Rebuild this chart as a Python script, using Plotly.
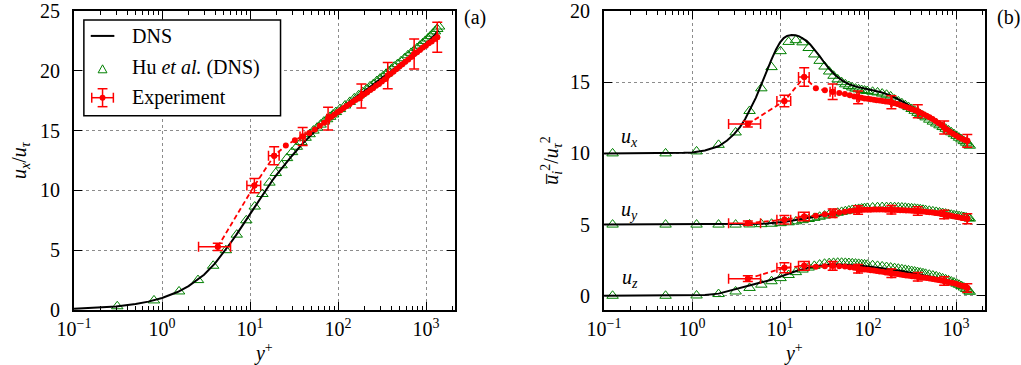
import plotly.graph_objects as go

# ------------------------------------------------------------------ data
# (a) mean velocity
dns_yplus_left = [0.1, 0.2, 0.3, 0.5, 0.7, 1, 1.5, 2, 3, 4, 5, 6, 7, 8, 9, 10, 12, 14, 16, 18, 20,
                  25, 30, 40, 50, 60, 80, 100, 150, 200, 300, 400, 500, 700, 900, 1100, 1300, 1380]
dns_u_left = [0.1, 0.2, 0.3, 0.5, 0.7, 1.0, 1.5, 2.0, 2.95, 3.9, 4.8, 5.6, 6.3, 6.95, 7.5, 8.0, 8.9, 9.65,
              10.3, 10.85, 11.3, 12.2, 12.9, 13.95, 14.7, 15.25, 16.05, 16.65, 17.65, 18.3, 19.3, 19.95,
              20.5, 21.35, 22.0, 22.55, 23.1, 23.35]

hu_yplus_left = [0.31, 0.81, 1.56, 2.56, 3.81, 5.31, 7.06, 9.06, 11.3, 13.8, 16.6, 19.6, 22.8, 26.3, 30.0,
                 34.0, 38.3, 42.8, 47.5, 52.5, 57.8, 63.3, 69.0, 75.0, 81.3, 87.8, 94.5, 105, 120, 136,
                 153, 171, 190, 210, 231, 253, 276, 300, 325, 351, 378, 406, 435, 473, 520, 570, 622,
                 676, 731, 790, 851, 914, 979, 1047, 1116, 1188, 1262, 1339, 1404]
hu_u_left = [0.31, 0.8, 1.55, 2.5, 3.7, 5.0, 6.3, 7.5, 8.65, 9.7, 10.65, 11.45, 12.1, 12.7, 13.2, 13.65,
             14.05, 14.4, 14.7, 15.0, 15.25, 15.5, 15.75, 15.95, 16.15, 16.35, 16.55, 16.8, 17.1, 17.4,
             17.7, 17.95, 18.2, 18.45, 18.7, 18.9, 19.15, 19.35, 19.55, 19.75, 19.95, 20.15, 20.35,
             20.55, 20.8, 21.05, 21.3, 21.5, 21.7, 21.9, 22.1, 22.3, 22.5, 22.7, 22.9, 23.1, 23.3,
             23.5, 23.7]

exp_yplus = [4.3, 11.2, 18.8, 25.5, 32.3, 39.6, 47, 54.5, 62, 69.5, 77, 84, 91, 99, 107, 116, 125, 135,
             146, 158, 170, 184, 199, 215, 232, 250, 270, 292, 315, 340, 367, 396, 428, 462, 499, 539,
             582, 628, 678, 732, 790, 853, 921, 995, 1074, 1160, 1253, 1340]
exp_u_left = [5.28, 10.4, 12.9, 13.75, 14.2, 14.5, 14.8, 15.1, 15.4, 15.65, 16.0, 16.15, 16.35, 16.55,
              16.7, 16.9, 17.05, 17.2, 17.4, 17.55, 17.7, 17.9, 18.05, 18.2, 18.4, 18.55, 18.75, 18.9,
              19.1, 19.3, 19.6, 19.75, 19.95, 20.15, 20.35, 20.55, 20.75, 20.95, 21.15, 21.4, 21.55,
              21.75, 21.95, 22.1, 22.3, 22.45, 22.65, 22.8]

# points of the experiment that carry error bars
exp_err_idx = [0, 1, 2, 5, 10, 21, 30, 39, 47]
exp_yplus_err = [1.7, 2.0, 2.6, 2.6, 2.6, 2.6, 2.6, 2.6, 2.6]
exp_u_left_err = [0.3, 0.6, 0.75, 0.75, 0.95, 1.0, 1.1, 1.25, 1.25]

# (b) Reynolds normal stresses (u_x offset +10, u_y offset +5)
dns_yplus_right = [0.1, 0.3, 0.5, 0.8, 1, 1.4, 2, 2.5, 3, 3.5, 4, 4.7, 5.3, 6, 7, 8, 9, 10, 11, 12, 13.5,
                   15, 16.5, 18, 20, 22, 25, 28, 31, 36, 43, 52, 61, 75, 100, 140, 186, 250, 368, 500,
                   735, 1000, 1200, 1380]
dns_uxx = [10.0, 10.0, 10.01, 10.04, 10.07, 10.2, 10.5, 10.9, 11.35, 11.85, 12.4, 13.2, 13.9, 14.7,
           15.75, 16.6, 17.3, 17.8, 18.1, 18.25, 18.32, 18.3, 18.22, 18.1, 17.9, 17.65, 17.25, 16.85,
           16.47, 15.95, 15.45, 15.08, 14.85, 14.67, 14.5, 14.3, 14.03, 13.62, 12.99, 12.5, 11.94,
           11.4, 11.05, 10.77]
dns_uyy = [5.0, 5.0, 5.0, 5.0, 5.0, 5.0, 5.0, 5.0, 5.01, 5.01, 5.02, 5.03, 5.04, 5.05, 5.07, 5.09, 5.12,
           5.15, 5.18, 5.21, 5.26, 5.3, 5.35, 5.39, 5.44, 5.49, 5.55, 5.61, 5.66, 5.73, 5.81, 5.89,
           5.95, 6.01, 6.08, 6.1, 6.09, 6.06, 5.98, 5.9, 5.75, 5.58, 5.44, 5.3]
dns_uzz = [0.0, 0.0, 0.0, 0.01, 0.02, 0.05, 0.15, 0.3, 0.42, 0.52, 0.61, 0.72, 0.81, 0.9, 1.02, 1.13,
           1.24, 1.35, 1.44, 1.52, 1.62, 1.72, 1.8, 1.87, 1.95, 2.01, 2.07, 2.12, 2.15, 2.18, 2.2,
           2.19, 2.17, 2.13, 2.06, 1.96, 1.85, 1.72, 1.52, 1.36, 1.13, 0.88, 0.68, 0.45]

hu_yplus_right = [0.125, 0.5, 1.125, 2, 3.125, 4.5, 6.125, 8, 10.125, 12.5, 15.125, 18, 21.125, 24.5,
                  28.125, 32, 36.125, 40.5, 45.125, 50, 55.125, 60.5, 66.125, 72, 78.125, 84.5, 91.125,
                  98, 112.5, 128, 144.5, 162, 180.5, 200, 220.5, 242, 264.5, 288, 312.5, 338, 364.5,
                  392, 420.5, 450, 496, 544.5, 595, 648, 703, 760.5, 820, 882, 946, 1012.5, 1081, 1152,
                  1225, 1300.5, 1378, 1431]
hu_uxx = [10.0, 10.0, 10.14, 10.6, 11.47, 12.98, 14.57, 16.06, 17.18, 17.83, 17.95, 17.8, 17.4, 16.95,
          16.5, 16.1, 15.75, 15.45, 15.2, 15.0, 14.85, 14.73, 14.63, 14.55, 14.5, 14.45, 14.41, 14.38,
          14.33, 14.28, 14.2, 14.12, 14.0, 13.78, 13.65, 13.52, 13.38, 13.25, 13.12, 12.99, 12.85,
          12.75, 12.64, 12.53, 12.37, 12.23, 12.1, 11.97, 11.85, 11.73, 11.61, 11.48, 11.35, 11.23,
          11.1, 10.98, 10.86, 10.75, 10.63, 10.54]
hu_uyy = [5.0, 5.0, 5.0, 5.0, 5.0, 5.01, 5.03, 5.06, 5.1, 5.16, 5.23, 5.31, 5.39, 5.47, 5.55, 5.63, 5.7,
          5.77, 5.83, 5.89, 5.94, 5.99, 6.03, 6.07, 6.1, 6.13, 6.15, 6.17, 6.2, 6.22, 6.23, 6.23, 6.23,
          6.22, 6.21, 6.2, 6.18, 6.16, 6.14, 6.12, 6.1, 6.07, 6.04, 6.01, 5.97, 5.93, 5.89, 5.85,
          5.81, 5.77, 5.73, 5.69, 5.65, 5.62, 5.59, 5.56, 5.53, 5.5, 5.46, 5.42]
hu_uzz = [0.0, 0.0, 0.02, 0.12, 0.3, 0.55, 0.78, 1.02, 1.24, 1.46, 1.66, 1.84, 1.98, 2.1, 2.19, 2.25,
          2.29, 2.31, 2.32, 2.32, 2.31, 2.3, 2.28, 2.26, 2.24, 2.22, 2.2, 2.18, 2.14, 2.1, 2.06, 2.02,
          1.98, 1.94, 1.9, 1.86, 1.82, 1.78, 1.74, 1.7, 1.66, 1.62, 1.58, 1.54, 1.48, 1.42, 1.36,
          1.29, 1.22, 1.15, 1.08, 1.0, 0.93, 0.85, 0.77, 0.68, 0.58, 0.47, 0.36, 0.28]

exp_uxx = [12.06, 13.68, 15.36, 14.57, 14.43, 14.33, 14.25, 14.17, 14.08, 14.0, 13.94, 13.9, 13.86,
           13.83, 13.8, 13.77, 13.74, 13.71, 13.68, 13.65, 13.62, 13.59, 13.53, 13.47, 13.4, 13.33,
           13.26, 13.18, 13.1, 13.03, 12.96, 12.86, 12.75, 12.64, 12.53, 12.41, 12.28, 12.14, 11.99,
           11.82, 11.67, 11.52, 11.38, 11.25, 11.13, 11.02, 10.94, 10.88]
exp_uyy = [5.1, 5.34, 5.57, 5.62, 5.72, 5.8, 5.85, 5.9, 5.95, 5.98, 6.02, 6.03, 6.04, 6.05, 6.05, 6.06,
           6.06, 6.06, 6.06, 6.05, 6.05, 6.04, 6.03, 6.02, 6.01, 6.0, 5.99, 5.98, 5.97, 5.96, 5.95,
           5.93, 5.91, 5.89, 5.87, 5.85, 5.82, 5.79, 5.75, 5.71, 5.67, 5.63, 5.59, 5.55, 5.51, 5.47,
           5.44, 5.41]
exp_uzz = [1.2, 1.96, 2.1, 2.04, 2.08, 2.1, 2.08, 2.05, 2.01, 1.96, 1.9, 1.87, 1.84, 1.82, 1.8, 1.77,
           1.74, 1.71, 1.68, 1.64, 1.61, 1.58, 1.55, 1.52, 1.49, 1.46, 1.43, 1.4, 1.37, 1.35, 1.33,
           1.3, 1.27, 1.24, 1.21, 1.18, 1.15, 1.11, 1.07, 1.03, 0.99, 0.94, 0.89, 0.84, 0.78, 0.71,
           0.63, 0.55]
exp_uxx_err = [0.2, 0.4, 0.65, 0.55, 0.45, 0.45, 0.45, 0.45, 0.45]
exp_uyy_err = [0.15, 0.3, 0.3, 0.3, 0.3, 0.3, 0.3, 0.3, 0.35]
exp_uzz_err = [0.2, 0.35, 0.3, 0.3, 0.3, 0.3, 0.3, 0.3, 0.3]

# axis ticks
x_tickvals = [0.1, 1, 10, 100, 1000]
x_ticktext = ["10<sup>−1</sup>", "10<sup>0</sup>", "10<sup>1</sup>", "10<sup>2</sup>", "10<sup>3</sup>"]
x_minor_vals = [0.2, 0.3, 0.4, 0.5, 0.6, 0.7, 0.8, 0.9, 2, 3, 4, 5, 6, 7, 8, 9,
                20, 30, 40, 50, 60, 70, 80, 90, 200, 300, 400, 500, 600, 700, 800, 900, 2000]
y_left_ticks = [0, 5, 10, 15, 20, 25]
y_right_ticks = [0, 5, 10, 15, 20]

# ------------------------------------------------------------------ style
W, H = 1021, 365
MT, MB = 10, 55
FONT = "'Liberation Serif', 'Times New Roman', serif"
GREEN = "rgb(0,128,0)"
RED = "rgb(255,0,0)"


def px(x):
    return x / W


def py(y):
    return (H - MB - y) / (H - MT - MB)


fig = go.Figure()


def add_panel(xa, ya, hu_x, hu_v, dns_x, dns_v, ex_v, ex_err):
    fig.add_trace(go.Scatter(x=hu_x, y=hu_v, mode="markers", xaxis=xa, yaxis=ya,
                             marker=dict(symbol="triangle-up-open", size=10, color=GREEN,
                                         line=dict(width=1, color=GREEN)),
                             showlegend=False))
    fig.add_trace(go.Scatter(x=dns_x, y=dns_v, mode="lines", xaxis=xa, yaxis=ya,
                             line=dict(color="black", width=2), showlegend=False))
    fig.add_trace(go.Scatter(x=exp_yplus, y=ex_v, mode="lines+markers", xaxis=xa, yaxis=ya,
                             line=dict(color=RED, width=1.8, dash="5px,3px"),
                             marker=dict(symbol="circle", size=6, color=RED),
                             showlegend=False))
    fig.add_trace(go.Scatter(x=[exp_yplus[i] for i in exp_err_idx],
                             y=[ex_v[i] for i in exp_err_idx],
                             mode="markers", xaxis=xa, yaxis=ya,
                             marker=dict(symbol="circle", size=6, color=RED),
                             error_x=dict(type="data", array=exp_yplus_err, color=RED,
                                          thickness=1.5, width=5),
                             error_y=dict(type="data", array=ex_err, color=RED,
                                          thickness=1.5, width=5),
                             showlegend=False))


add_panel("x", "y", hu_yplus_left, hu_u_left, dns_yplus_left, dns_u_left, exp_u_left, exp_u_left_err)
add_panel("x2", "y2", hu_yplus_right, hu_uxx, dns_yplus_right, dns_uxx, exp_uxx, exp_uxx_err)
add_panel("x2", "y2", hu_yplus_right, hu_uyy, dns_yplus_right, dns_uyy, exp_uyy, exp_uyy_err)
add_panel("x2", "y2", hu_yplus_right, hu_uzz, dns_yplus_right, dns_uzz, exp_uzz, exp_uzz_err)

tickfont = dict(family=FONT, size=20, color="black")
titlefont = dict(family=FONT, size=20, color="black")
xcommon = dict(type="log", range=[-1, 3.324], tickmode="array", tickvals=x_tickvals, ticktext=x_ticktext,
               showline=True, linewidth=2, linecolor="black", mirror="ticks",
               ticks="inside", ticklen=8, tickwidth=1, tickcolor="black",
               showgrid=True, griddash="dot", gridcolor="rgb(140,140,140)", gridwidth=1,
               zeroline=False, tickfont=tickfont, ticklabeloverflow="allow",
               title=dict(text="<i>y</i><sup>+</sup>", font=titlefont, standoff=4),
               minor=dict(tickmode="array", tickvals=x_minor_vals, ticks="inside", ticklen=4,
                          tickcolor="black", showgrid=False))
ycommon = dict(showline=True, linewidth=2, linecolor="black", mirror="ticks",
               ticks="inside", ticklen=8, tickwidth=1, tickcolor="black", tickmode="array",
               showgrid=True, griddash="dot", gridcolor="rgb(140,140,140)", gridwidth=1,
               zeroline=False, tickfont=tickfont, ticklabeloverflow="allow",
               ticklabelstandoff=8)

fig.update_layout(
    width=W, height=H,
    margin=dict(l=0, r=0, t=MT, b=MB),
    paper_bgcolor="white", plot_bgcolor="white",
    showlegend=False,
    font=dict(family=FONT, size=20, color="black"),
    xaxis=dict(domain=[px(58), px(445)], anchor="y", **xcommon),
    yaxis=dict(domain=[0, 1], anchor="x", range=[-0.001, 25.001], tickvals=y_left_ticks,
               title=dict(text="<i>u</i><sub><i>x</i></sub>/<i>u</i><sub><i>τ</i></sub>",
                          font=titlefont, standoff=8),
               **ycommon),
    xaxis2=dict(domain=[px(597), px(984)], anchor="y2", **xcommon),
    yaxis2=dict(domain=[0, 1], anchor="x2", range=[-1, 20.001], tickvals=y_right_ticks,
                title=dict(text="<i>u\u0305</i><sub><i>i</i></sub><sup>2</sup>/<i>u</i><sub><i>τ</i></sub><sup>2</sup>",
                           font=titlefont, standoff=6),
                **ycommon),
)

ann_font = dict(family=FONT, size=20, color="black")
annotations = [
    dict(x=px(466), y=py(17), text="(a)"),
    dict(x=px(1008), y=py(17), text="(b)"),
    dict(x=px(623), y=py(137), text="<i>u</i><sub><i>x</i></sub>"),
    dict(x=px(623), y=py(210), text="<i>u</i><sub><i>y</i></sub>"),
    dict(x=px(623), y=py(278), text="<i>u</i><sub><i>z</i></sub>"),
    dict(x=px(115), y=py(35), text="DNS", xanchor="left"),
    dict(x=px(115), y=py(67), text="Hu <i>et al.</i> (DNS)", xanchor="left"),
    dict(x=px(115), y=py(97), text="Experiment", xanchor="left"),
]
for a in annotations:
    a.setdefault("xanchor", "center")
    fig.add_annotation(xref="paper", yref="paper", showarrow=False, font=ann_font, yanchor="middle", **a)

# hand-drawn legend box and symbols
shapes = [
    dict(type="rect", x0=px(68), x1=px(268), y0=py(19), y1=py(115),
         line=dict(color="black", width=1.5), fillcolor="white"),
    dict(type="line", x0=px(75), x1=px(99), y0=py(35), y1=py(35), line=dict(color="black", width=2)),
    dict(type="path",
         path=f"M {px(82.5)} {py(72)} L {px(91.5)} {py(72)} L {px(87)} {py(64)} Z",
         line=dict(color=GREEN, width=1)),
    dict(type="line", x0=px(76), x1=px(98), y0=py(97), y1=py(97), line=dict(color=RED, width=1.5)),
    dict(type="line", x0=px(76), x1=px(76), y0=py(92), y1=py(102), line=dict(color=RED, width=1.5)),
    dict(type="line", x0=px(98), x1=px(98), y0=py(92), y1=py(102), line=dict(color=RED, width=1.5)),
    dict(type="line", x0=px(87), x1=px(87), y0=py(88), y1=py(106), line=dict(color=RED, width=1.5)),
    dict(type="line", x0=px(82), x1=px(92), y0=py(88), y1=py(88), line=dict(color=RED, width=1.5)),
    dict(type="line", x0=px(82), x1=px(92), y0=py(106), y1=py(106), line=dict(color=RED, width=1.5)),
    dict(type="circle", x0=px(84), x1=px(90), y0=py(94), y1=py(100),
         line=dict(color=RED, width=0), fillcolor=RED),
]
for s in shapes:
    fig.add_shape(xref="paper", yref="paper", layer="above", **s)

fig.write_html("out.html")
